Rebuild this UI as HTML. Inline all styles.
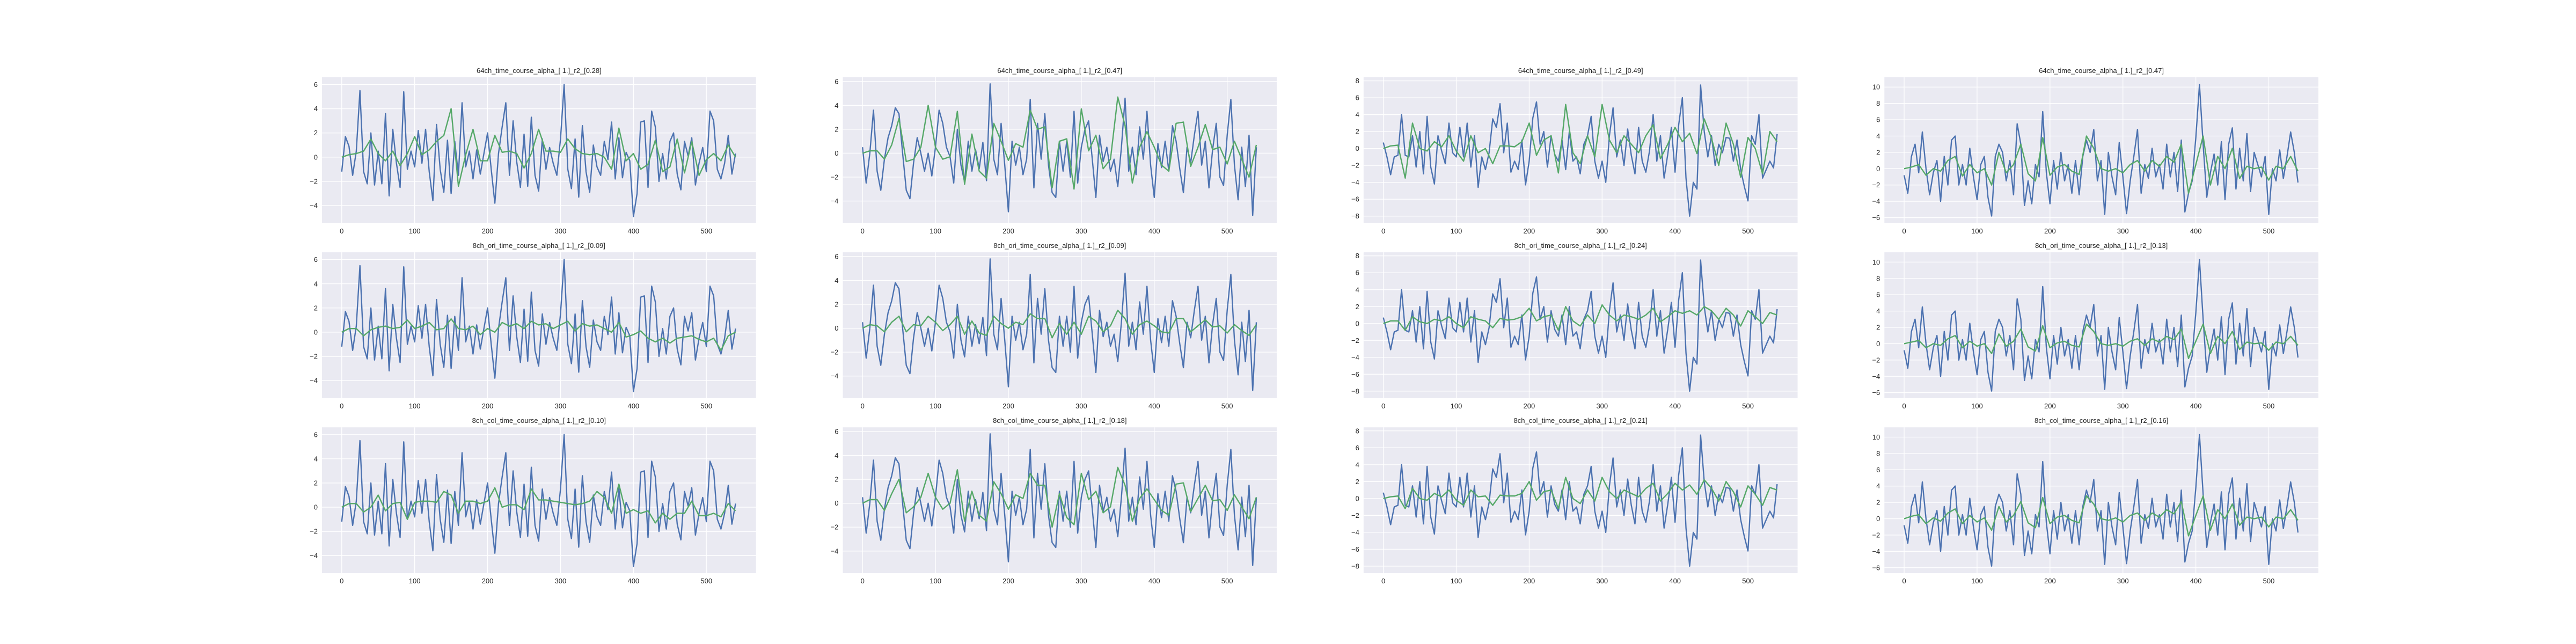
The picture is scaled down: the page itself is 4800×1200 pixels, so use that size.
<!DOCTYPE html>
<html><head><meta charset="utf-8">
<style>
html,body{margin:0;padding:0;background:#fff;}
svg{display:block;font-family:"Liberation Sans",Arial,sans-serif;}
</style></head>
<body>
<svg id="fig" width="4800" height="1200" viewBox="0 0 4800 1200" xmlns="http://www.w3.org/2000/svg"></svg>
<script>
const titles = [
 ["64ch_time_course_alpha_[ 1.]_r2_[0.28]","64ch_time_course_alpha_[ 1.]_r2_[0.47]","64ch_time_course_alpha_[ 1.]_r2_[0.49]","64ch_time_course_alpha_[ 1.]_r2_[0.47]"],
 ["8ch_ori_time_course_alpha_[ 1.]_r2_[0.09]","8ch_ori_time_course_alpha_[ 1.]_r2_[0.09]","8ch_ori_time_course_alpha_[ 1.]_r2_[0.24]","8ch_ori_time_course_alpha_[ 1.]_r2_[0.13]"],
 ["8ch_col_time_course_alpha_[ 1.]_r2_[0.10]","8ch_col_time_course_alpha_[ 1.]_r2_[0.18]","8ch_col_time_course_alpha_[ 1.]_r2_[0.21]","8ch_col_time_course_alpha_[ 1.]_r2_[0.16]"]
];
const xTicks = [0,100,200,300,400,500];
const yTicksCol = [[-4,-2,0,2,4,6],[-4,-2,0,2,4,6],[-8,-6,-4,-2,0,2,4,6,8],[-6,-4,-2,0,2,4,6,8,10]];
const blueStep = 5;
const greenStep = 10;
const blue1 = [-1.2,1.7,0.9,-1.5,0.5,5.5,-1.2,-2.2,2.0,-2.3,0.5,-2.2,3.6,-3.2,2.3,-0.5,-2.5,5.4,-1.0,0.5,-0.8,2.2,-0.5,2.3,-1.2,-3.6,2.7,-1.0,-2.9,1.4,-3.0,1.3,-1.5,4.5,-0.8,0.5,-1.8,0.6,-1.4,0.3,2.0,-1.0,-3.8,0.3,2.5,4.5,-1.5,3.0,-0.4,-2.5,1.9,-2.4,3.3,-1.5,-2.8,1.5,-1.0,0.8,-0.5,-1.5,1.5,6.0,-1.0,-2.6,1.5,-3.3,2.6,-1.2,-2.9,1.0,-0.8,-1.5,1.3,-0.2,2.9,-1.8,1.6,-1.7,0.4,-0.3,-4.9,-3.0,2.9,3.0,-2.5,3.8,2.5,-2.0,0.3,-1.8,1.3,2.0,-1.4,-2.7,1.3,0.1,1.6,-2.3,-0.5,0.8,-1.2,3.8,3.0,-1.0,-1.8,-0.5,1.8,-1.4,0.3];
const blue2 = [0.5,-2.5,0.0,3.6,-1.5,-3.1,-0.5,1.3,2.3,3.8,3.3,0.0,-3.1,-3.8,-0.8,1.3,0.0,-1.5,0.0,-1.9,0.5,3.6,2.5,0.5,-0.3,-2.5,2.0,-1.0,-2.4,1.0,-1.5,0.3,-1.3,0.9,-2.3,5.8,-0.5,-1.8,2.5,-1.0,-4.9,1.0,-1.0,0.5,-1.8,-0.5,4.5,-2.9,2.5,-0.5,3.3,-1.0,-3.3,-3.7,1.0,-1.5,1.0,-2.0,3.5,-2.5,0.5,2.0,2.7,-0.5,-3.7,1.5,-0.7,0.5,-1.5,-0.5,-2.8,0.5,4.6,-1.5,0.5,-1.8,2.2,-0.5,3.5,-1.0,-3.7,0.8,-1.2,1.0,-1.5,2.3,1.0,-1.3,-3.3,0.5,-0.8,1.5,3.5,-1.0,1.0,-2.9,0.3,2.5,-2.0,-2.7,1.5,4.5,-1.0,-3.9,0.5,-2.8,1.5,-5.2,0.5];
const blue3 = [0.7,-1.0,-3.1,-1.0,-0.8,4.0,-0.8,-1.0,1.5,-2.2,2.0,-3.0,3.8,-2.2,-4.2,1.5,-0.3,-1.8,3.0,-0.5,-1.0,2.5,-1.0,3.0,-2.2,1.5,-4.6,-1.0,-2.5,-0.5,3.5,2.5,5.3,-0.5,3.0,-2.8,-1.5,-2.5,1.0,-4.3,-1.5,3.6,5.5,0.5,2.0,-2.2,1.5,-0.7,-1.5,1.0,-2.5,2.0,-1.5,-1.0,-3.0,0.5,1.5,3.8,-1.5,-3.5,-1.5,-4.0,1.5,4.8,-1.0,1.0,-2.0,2.3,-0.8,-3.0,2.5,-1.5,-2.8,-0.3,4.0,-1.5,1.5,-3.5,-0.7,2.5,-2.8,2.8,6.0,-3.5,-8.0,-4.0,-4.8,7.5,2.0,-1.0,1.5,-2.0,0.5,-0.5,1.3,1.2,-1.5,1.0,-2.5,-4.5,-6.2,1.5,0.5,4.0,-3.5,-2.5,-1.5,-2.3,1.7];
const blue4 = [-0.8,-3.0,1.5,3.0,-0.5,4.5,0.0,-3.2,-0.5,1.0,-4.0,1.5,-2.0,3.5,4.0,-2.0,0.5,-2.0,2.5,-1.0,-3.8,0.5,1.5,-3.5,-5.8,1.5,3.0,2.0,-1.5,1.0,-3.2,5.5,3.0,-4.5,-1.5,-4.3,0.5,-1.0,7.0,-0.5,-4.3,1.0,-2.5,2.0,-1.5,0.5,-3.0,1.0,-3.2,1.5,3.5,2.0,4.8,-1.5,1.0,-5.6,2.0,-1.0,-3.2,3.2,-1.0,-5.5,-1.5,1.5,4.8,-3.0,0.5,-1.2,2.5,-1.0,0.5,-2.5,3.0,-1.0,2.0,-2.8,3.5,-5.3,-3.0,-1.5,3.8,10.3,3.0,-3.5,-0.5,1.8,-2.0,3.3,-3.8,3.0,5.0,-2.5,2.5,-1.5,4.3,-2.8,2.0,0.5,-1.0,1.5,-5.6,0.0,-1.5,2.3,-1.2,1.5,4.5,2.0,-1.7];
const green1_64 = [0,0.2,0.3,0.5,1.5,0.3,-0.3,0.5,-0.7,0.3,1.7,0.2,0.6,1.3,1.8,4.0,-2.4,0.2,2.3,-0.3,-0.3,1.8,0.4,0.5,0.3,-0.9,0.3,2.3,0.5,0.5,0.4,1.5,0.7,0.3,0.2,0.3,0.0,-1.0,2.4,-0.3,0.3,-1.0,-0.6,1.4,-1.2,-0.8,1.5,-1.3,1.3,-1.5,-0.2,0.3,-0.3,1.0,0.0];
const green1_ori = [0,0.3,0.3,-0.3,0.2,0.4,0.5,0.3,0.4,1.0,0.3,0.5,0.8,0.2,0.3,1.1,0.3,0.2,0.5,-0.2,0.3,0.0,0.8,0.5,0.7,0.3,0.9,0.6,0.7,0.3,0.6,0.9,0.1,0.7,0.5,0.6,0.3,0.0,0.8,-0.4,-0.2,0.1,-0.5,-0.8,-0.5,-0.9,-0.5,-0.4,-0.3,-0.6,-0.8,-0.5,-1.5,-0.3,0.0];
const green1_col = [0,0.3,0.3,-0.4,0.0,1.0,-0.3,0.3,0.4,-1.0,0.4,0.5,0.5,0.4,1.3,1.0,-0.5,0.5,0.5,0.3,0.5,1.6,0.0,0.2,0.2,-0.2,1.5,0.6,0.6,0.5,0.4,0.3,0.2,0.3,0.5,1.3,0.8,-0.5,1.9,-0.5,-0.2,-0.5,-0.3,-1.3,-0.5,-1.0,-0.5,-0.5,0.5,-0.7,-0.7,-0.5,-0.8,0.3,-0.3];
const green2_64 = [0,0.2,0.2,-0.5,0.7,2.9,-0.7,-0.5,0.5,4.0,0.5,-0.5,-0.3,3.5,-2.6,1.6,-1.5,-2.1,2.5,1.0,-0.6,0.8,0.5,3.6,2.0,2.2,-2.9,1.0,1.2,-3.0,3.7,0.2,1.5,-1.3,-0.5,4.7,2.3,-2.5,0.5,1.8,0.5,-1.0,-1.5,2.5,2.6,-1.1,0.5,2.4,0.3,0.5,-0.9,1.0,-0.5,-2.0,0.7];
const green2_ori = [0,0.3,0.2,-0.3,0.5,1.0,-0.3,0.3,0.2,1.0,0.5,-0.2,0.3,1.0,-0.5,0.6,-0.4,-0.6,1.0,0.4,0.0,0.5,0.3,1.2,0.8,0.8,-0.8,0.4,-0.5,0.5,-0.5,1.0,0.6,-0.3,0.2,1.5,0.8,-0.5,0.3,0.6,0.2,-0.3,-0.4,0.8,0.8,-0.3,0.2,0.7,0.1,0.2,-0.4,0.3,-0.2,-0.6,0.3];
const green2_col = [0,0.3,0.3,-0.6,0.8,2.0,-0.8,-0.3,0.5,2.5,0.5,-0.5,0.0,2.8,-1.5,1.0,-1.0,-1.5,1.8,0.8,-0.5,0.7,0.4,2.5,1.5,1.5,-2.0,0.8,-1.2,-1.8,2.5,0.3,1.0,-0.8,-0.3,3.0,1.5,-1.5,0.4,1.2,0.3,-0.6,-1.0,1.6,1.7,-0.7,0.4,1.5,0.2,0.3,-0.6,0.7,-0.3,-1.3,0.5];
const green3_64 = [0,0.3,0.4,-3.5,3.0,0.0,-0.3,0.8,0.2,1.5,-0.3,-1.5,1.5,-0.5,0.0,-1.8,0.3,0.3,0.2,0.8,3.0,-0.8,1.0,1.5,-2.9,5.2,-0.5,-1.8,1.5,-1.0,5.2,1.0,-0.5,1.5,0.5,-0.5,1.5,2.8,-1.2,0.5,2.5,0.8,1.8,-0.6,3.5,1.2,-2.0,3.0,0.5,-3.4,1.3,0.0,-3.0,2.0,0.8];
const green3_ori = [0,0.3,0.3,-0.8,0.8,0.2,0.0,0.5,0.3,0.8,0.0,-0.5,0.8,0.5,0.3,-0.5,0.6,0.4,0.5,0.8,1.8,0.3,0.8,1.0,-0.8,2.0,0.3,-0.3,1.0,0.0,2.2,1.0,0.3,1.0,0.8,0.5,1.0,1.8,0.2,0.8,1.5,1.2,1.5,1.0,2.0,1.5,0.5,1.8,1.0,-0.3,1.5,0.8,0.0,1.3,1.0];
const green3_col = [0,0.2,0.3,-1.2,1.2,0.0,-0.2,0.6,0.2,1.0,-0.2,-0.8,1.0,0.2,0.3,-0.8,0.4,0.3,0.3,0.6,2.0,-0.2,0.8,1.0,-1.2,2.5,0.0,-0.6,1.0,-0.3,2.5,0.8,0.0,1.0,0.6,0.2,1.2,1.8,-0.3,0.6,1.8,1.0,1.6,0.5,2.2,1.2,-0.3,2.0,0.8,-1.0,1.5,0.5,-0.8,1.3,1.0];
const green4_64 = [0,0.2,0.5,-0.8,0.0,-0.3,1.0,1.5,-0.9,0.5,-0.5,0.0,-2.0,2.0,-0.5,0.5,3.0,-0.6,-1.5,3.8,-0.8,0.2,0.5,-0.3,-0.7,4.0,2.5,0.0,-0.3,0.0,-0.5,0.5,1.0,-0.3,1.0,0.3,1.5,0.8,3.0,-3.0,0.5,4.0,-2.0,1.5,0.0,2.5,-1.2,0.3,0.0,0.2,-1.4,0.3,0.0,1.5,-0.3];
const green4_ori = [0,0.2,0.4,-0.5,0.0,-0.2,0.6,1.0,-0.5,0.3,-0.3,0.0,-1.2,1.2,-0.3,0.3,1.8,-0.4,-0.9,2.2,-0.5,0.1,0.3,-0.2,-0.4,2.4,1.5,0.0,-0.2,0.0,-0.3,0.3,0.6,-0.2,0.6,0.2,0.9,0.5,1.8,-1.8,0.3,2.4,-1.2,0.9,0.0,1.5,-0.7,0.2,0.0,0.1,-0.8,0.2,0.0,0.9,-0.2];
const green4_col = [0,0.3,0.5,-0.6,0.1,-0.3,0.7,1.2,-0.6,0.4,-0.4,0.1,-1.4,1.5,-0.4,0.4,2.1,-0.5,-1.1,2.6,-0.6,0.2,0.4,-0.2,-0.5,2.8,1.8,0.0,-0.2,0.1,-0.4,0.4,0.7,-0.2,0.7,0.2,1.1,0.6,2.1,-2.1,0.4,2.8,-1.4,1.1,0.0,1.8,-0.8,0.2,0.0,0.2,-1.0,0.2,0.0,1.1,-0.2];

const blues = [blue1, blue2, blue3, blue4];
const greens = [[green1_64, green2_64, green3_64, green4_64],[green1_ori, green2_ori, green3_ori, green4_ori],[green1_col, green2_col, green3_col, green4_col]];

const NS = "http://www.w3.org/2000/svg";
const svg = document.getElementById('fig');
const axW = 3720/4.6, axH = 924/3.4;
const colX = [0,1,2,3].map(c => 600 + c*axW*1.2);
const rowY = [0,1,2].map(r => 144 + r*axH*1.2);
const yLims = [[-5.45,6.6],[-5.85,6.35],[-8.83,8.42],[-6.67,11.2]];
const xLim = [-27.05, 568.05];

function mk(tag, attrs, parent){ const e = document.createElementNS(NS, tag); for (const k in attrs) e.setAttribute(k, attrs[k]); parent.appendChild(e); return e; }

for (let r=0;r<3;r++){
  for (let c=0;c<4;c++){
    const x0 = colX[c], y0 = rowY[r];
    const [ymin,ymax] = yLims[c];
    const sx = v => x0 + (v - xLim[0])/(xLim[1]-xLim[0])*axW;
    const sy = v => y0 + (ymax - v)/(ymax-ymin)*axH;
    const g = mk('g', {}, svg);
    
    
    const bg = mk('rect', {x:x0, y:y0, width:axW, height:axH, fill:'#EAEAF2'}, g);
    
    
    const t = mk('text', {x:x0+axW/2, y:y0-8, 'text-anchor':'middle', 'font-size':13, fill:'#262626'}, g);
    t.textContent = titles[r][c];
    
    
    for (const v of xTicks){
      const X = sx(v);
      const gl = mk('line', {x1:X, x2:X, y1:y0, y2:y0+axH, stroke:'#fff', 'stroke-width':1.3}, g);
      
      
      const tl = mk('text', {x:X, y:y0+axH+19, 'text-anchor':'middle', 'font-size':13, fill:'#262626'}, g);
      tl.textContent = v;
      
      
    }
    for (const v of yTicksCol[c]){
      const Y = sy(v);
      const gl = mk('line', {x1:x0, x2:x0+axW, y1:Y, y2:Y, stroke:'#fff', 'stroke-width':1.3}, g);
      
      
      const tl = mk('text', {x:x0-8, y:Y+4.5, 'text-anchor':'end', 'font-size':13, fill:'#262626'}, g);
      tl.textContent = v < 0 ? '\u2212'+Math.abs(v) : String(v);
      
      
    }
    const bp = blues[c].map((v,i)=> (i?'L':'M')+sx(i*blueStep).toFixed(1)+','+sy(v).toFixed(1)).join('');
    const bl = mk('path', {d:bp, fill:'none', stroke:'#4C72B0', 'stroke-width':2.4, 'stroke-linejoin':'round'}, g);
    
    
    const gp = greens[r][c].map((v,i)=> (i?'L':'M')+sx(i*greenStep).toFixed(1)+','+sy(v).toFixed(1)).join('');
    const gr = mk('path', {d:gp, fill:'none', stroke:'#55A868', 'stroke-width':2.4, 'stroke-linejoin':'round'}, g);
    
    
  }
}
</script>
</body></html>
